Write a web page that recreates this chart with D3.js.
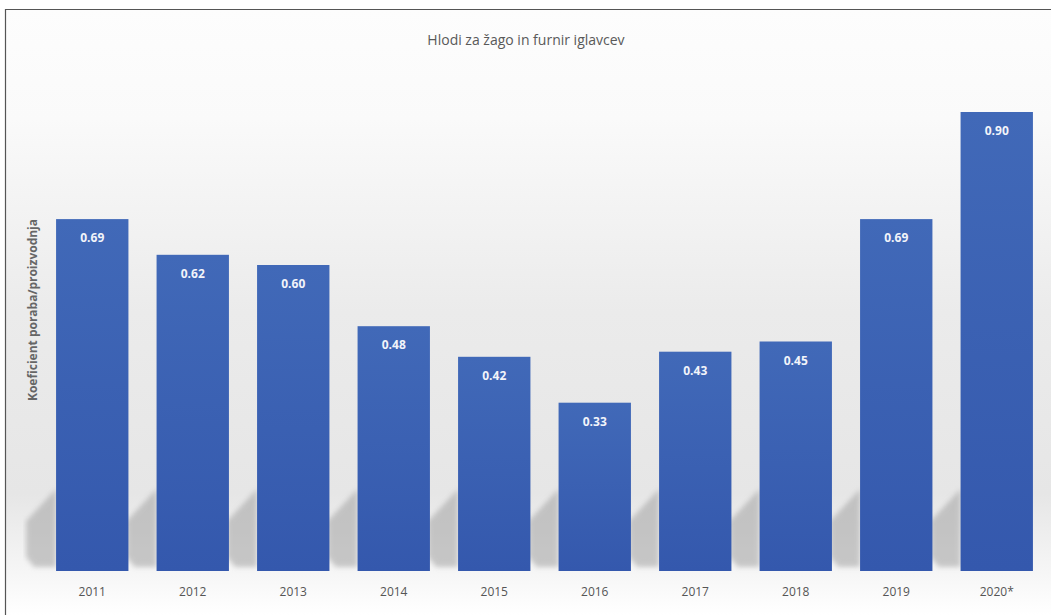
<!DOCTYPE html>
<html>
<head>
<meta charset="utf-8">
<script src="https://cdn.jsdelivr.net/npm/d3@7"></script>
<style>
  body { margin: 0; background: #fff; }
  text { font-family: "Open Sans", "DejaVu Sans", sans-serif; }
</style>
</head>
<body>
<svg width="1051" height="615"></svg>
<script>
const years = ["2011", "2012", "2013", "2014", "2015", "2016", "2017", "2018", "2019", "2020*"];
const values = [0.69, 0.62, 0.60, 0.48, 0.42, 0.33, 0.43, 0.45, 0.69, 0.90];
const title = "Hlodi za žago in furnir iglavcev";
const yTitle = "Koeficient poraba/proizvodnja";

const svg = d3.select("svg");
const defs = svg.append("defs");

// background gradient (white -> light gray -> white)
const bg = defs.append("linearGradient").attr("id", "bg").attr("x1", 0).attr("y1", 0).attr("x2", 0).attr("y2", 1);
bg.append("stop").attr("offset", "0%").attr("stop-color", "#fdfdfd");
bg.append("stop").attr("offset", "18%").attr("stop-color", "#fafafa");
bg.append("stop").attr("offset", "50%").attr("stop-color", "#ebebeb");
bg.append("stop").attr("offset", "80%").attr("stop-color", "#e6e6e6");
bg.append("stop").attr("offset", "93%").attr("stop-color", "#f6f6f6");
bg.append("stop").attr("offset", "100%").attr("stop-color", "#ffffff");

const barGrad = defs.append("linearGradient").attr("id", "bar").attr("x1", 0).attr("y1", 0).attr("x2", 0).attr("y2", 1);
barGrad.append("stop").attr("offset", "0%").attr("stop-color", "#4169b8");
barGrad.append("stop").attr("offset", "100%").attr("stop-color", "#3458ad");

defs.append("filter").attr("id", "blur").append("feGaussianBlur").attr("stdDeviation", 2.5);

svg.append("rect").attr("x", 5).attr("y", 9).attr("width", 1046).attr("height", 606).attr("fill", "url(#bg)");
svg.append("line").attr("x1", 5).attr("x2", 1051).attr("y1", 9.5).attr("y2", 9.5).attr("stroke", "#555").attr("stroke-width", 1.2);
svg.append("line").attr("x1", 5.5).attr("x2", 5.5).attr("y1", 9).attr("y2", 615).attr("stroke", "#555").attr("stroke-width", 1.2);

const x = d3.scaleBand().domain(years).range([42, 1047]).paddingInner(0.28).paddingOuter(0.14);
const y = d3.scaleLinear().domain([0, 0.9]).range([571, 112]);

// shadows cast down-left of each bar
svg.append("g").selectAll("path").data(years).join("path")
  .attr("d", d => {
    const x0 = x(d), b = y(0);
    return `M${x0},${b - 82} L${x0},${b - 4} L${x0 - 22},${b - 4} L${x0 - 30},${b - 14} L${x0 - 30},${b - 50} Z`;
  })
  .attr("fill", "#a8a8a8").attr("opacity", 0.6).attr("filter", "url(#blur)");

svg.append("g").selectAll("rect").data(values).join("rect")
  .attr("x", (d, i) => x(years[i]))
  .attr("y", d => y(d))
  .attr("width", x.bandwidth())
  .attr("height", d => y(0) - y(d))
  .attr("fill", "url(#bar)");

svg.append("g").selectAll("text").data(values).join("text")
  .attr("x", (d, i) => x(years[i]) + x.bandwidth() / 2)
  .attr("y", d => y(d) + 23)
  .attr("text-anchor", "middle")
  .attr("fill", "#f2f4fa").attr("font-size", 12).attr("font-weight", "bold")
  .text(d => d.toFixed(2));

const xAxis = svg.append("g").attr("transform", `translate(0,${y(0)})`)
  .call(d3.axisBottom(x).tickSize(0).tickPadding(16));
xAxis.select(".domain").remove();
xAxis.selectAll("text").attr("fill", "#555").attr("font-size", 12)
  .style("font-family", "'Open Sans', sans-serif");

svg.append("text").attr("x", 526).attr("y", 45).attr("text-anchor", "middle")
  .attr("fill", "#595959").attr("font-size", 14).text(title);

svg.append("text").attr("transform", "rotate(-90)")
  .attr("x", -310).attr("y", 37).attr("text-anchor", "middle")
  .attr("fill", "#666").attr("font-size", 12).attr("font-weight", "bold").text(yTitle);
</script>
</body>
</html>
